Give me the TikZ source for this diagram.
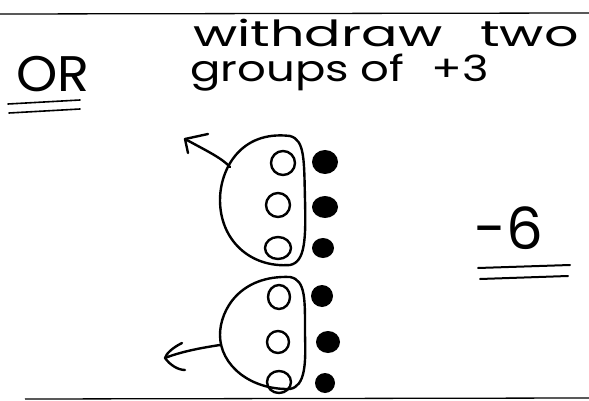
\documentclass[tikz,border=0pt]{standalone}
\usepackage{fontspec}
\setmainfont{Poppins}
\begin{document}
\begin{tikzpicture}[x=1pt,y=-1pt,
  ink/.style={line width=2.4pt,line cap=round,line join=round},
  hole/.style={ink,draw=black},
  bead/.style={fill=black},
  handtext/.style={inner sep=0pt,anchor=base west}]
\useasboundingbox (0,0) rectangle (589,401);
% frame lines
\coordinate (tl) at (0,14); \coordinate (tr) at (589,13);
\coordinate (bl) at (25,399); \coordinate (br) at (589,398);
\draw[line width=1.3pt] (tl) -- (tr);
\draw[line width=1.3pt] (bl) -- (br);
% texts
\node[handtext] (orr) at (16,92) {\fontsize{50}{50}\selectfont\scalebox{1.05}[1]{OR}};
\draw[ink,line width=1.6pt] (8,104) -- (80,100);
\draw[ink,line width=1.6pt] (9,113) -- (80,109);
\node[handtext] (l1) at (193,47) {\fontsize{36}{36}\selectfont\scalebox{1.5}[1]{withdraw\hspace{0.7em}two}};
\node[handtext] (l2) at (190,82) {\fontsize{36}{36}\selectfont\scalebox{1.25}[1]{groups of\hspace{0.6em}+3}};
\node[handtext] (m6) at (474,249) {\fontsize{58}{58}\selectfont -6};
\draw[ink,line width=2pt] (478,268) -- (570,265);
\draw[ink,line width=2pt] (480,279) -- (568,276);
% top group
\draw[ink] (290,136) .. controls (240,130) and (220,170) .. (220,200)
  .. controls (220,240) and (250,268) .. (290,265)
  .. controls (305,262) and (306,240) .. (305,200)
  .. controls (304,160) and (305,140) .. (290,136);
\draw[hole] (283,163) ellipse [x radius=12, y radius=12];
\draw[hole] (278,205) ellipse [x radius=12, y radius=12];
\draw[hole] (278,248) ellipse [x radius=13, y radius=11];
\fill[bead] (325,162) ellipse [x radius=13, y radius=12];
\fill[bead] (325,207) ellipse [x radius=13, y radius=11];
\fill[bead] (323,248) ellipse [x radius=11, y radius=10];
\coordinate (a1s) at (230,167);
\coordinate (a1t) at (185,139);
\draw[ink] (a1s) .. controls (222,158) and (205,150) .. (a1t);
\draw[ink] (208,134) -- (a1t) -- (188,153);
% bottom group
\draw[ink] (290,277) .. controls (240,275) and (220,310) .. (220,335)
  .. controls (220,365) and (250,390) .. (290,389)
  .. controls (305,386) and (306,365) .. (305,335)
  .. controls (305,300) and (306,280) .. (290,277);
\draw[hole] (279,297) ellipse [x radius=11, y radius=12];
\draw[hole] (278,342) ellipse [x radius=11, y radius=11];
\draw[hole] (279,382) ellipse [x radius=12, y radius=11];
\fill[bead] (322,296) ellipse [x radius=11, y radius=11];
\fill[bead] (328,342) ellipse [x radius=12, y radius=11];
\fill[bead] (325,383) ellipse [x radius=10, y radius=10];
\coordinate (a2s) at (220,345);
\coordinate (a2t) at (165,358);
\draw[ink] (a2s) .. controls (200,348) and (180,352) .. (a2t);
\draw[ink] (182,343) .. controls (172,348) and (166,354) .. (a2t)
  .. controls (170,365) and (178,370) .. (185,370);
\end{tikzpicture}
\end{document}
